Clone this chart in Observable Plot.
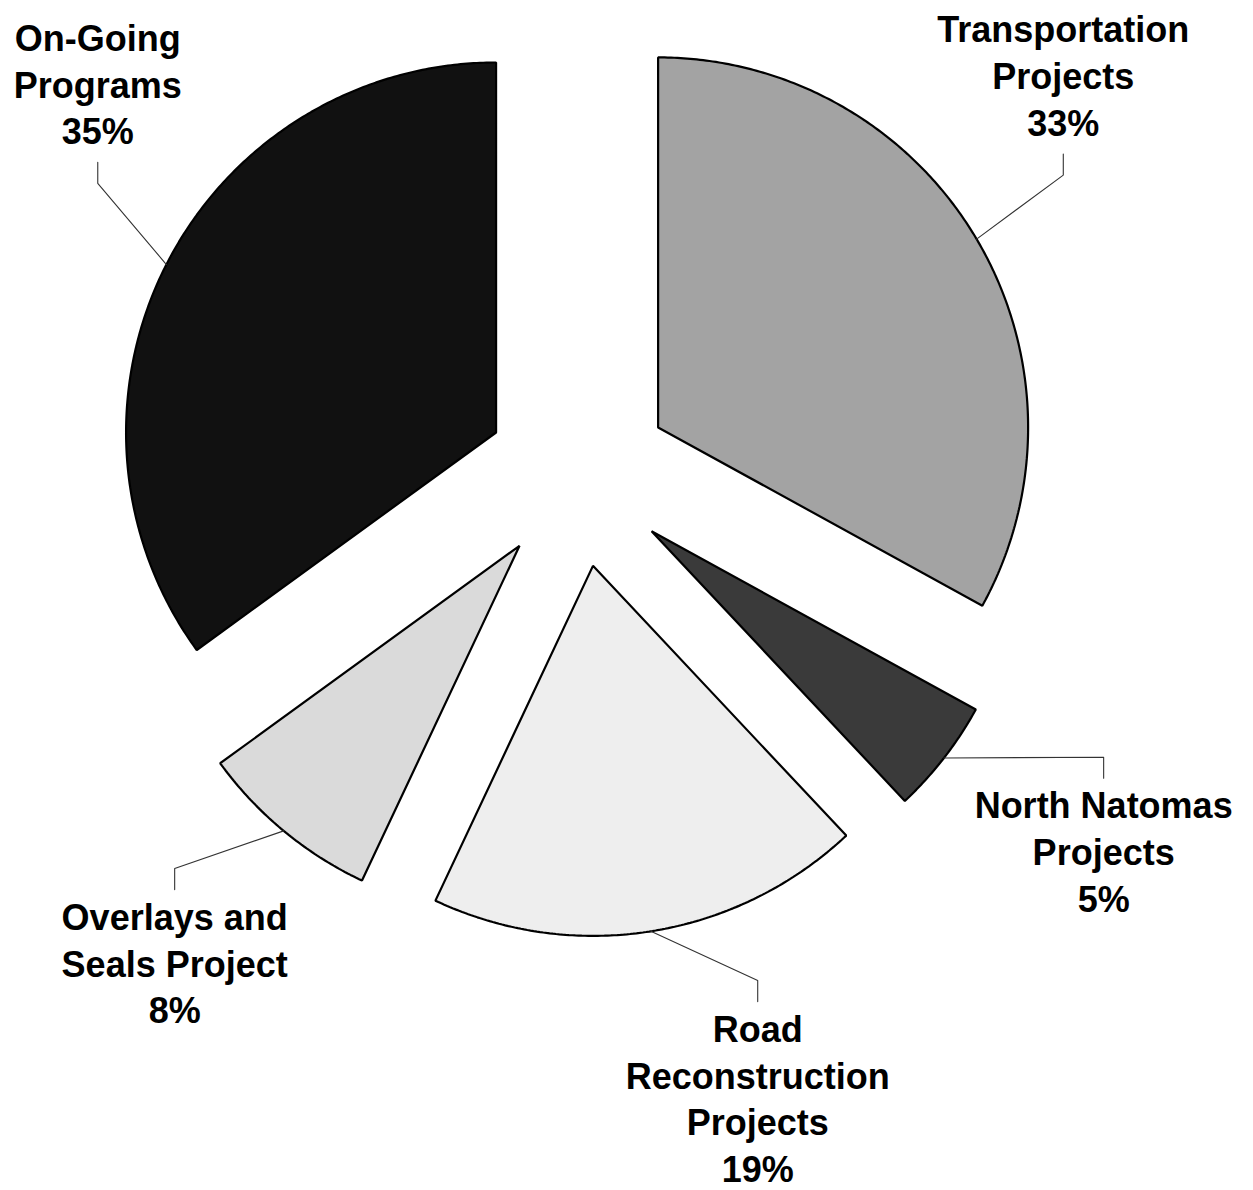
<!DOCTYPE html>
<html><head><meta charset="utf-8">
<script src="https://cdn.jsdelivr.net/npm/d3@7"></script>
<script src="https://cdn.jsdelivr.net/npm/@observablehq/plot@0.6"></script>
<style>body{margin:0;background:#fff} #chart{width:1253px;height:1190px}</style>
</head><body><div id="chart"></div>
<script>
// ---- data ----
const categories = ["Transportation Projects","North Natomas Projects","Road Reconstruction Projects","Overlays and Seals Project","On-Going Programs"];
const shares = [33, 5, 19, 8, 35];
const labelText = ["Transportation\nProjects","North Natomas\nProjects","Road\nReconstruction\nProjects","Overlays and\nSeals Project","On-Going\nPrograms"];
const percentText = ["33%","5%","19%","8%","35%"];

// ---- layout / style ----
const W = 1253, H = 1190, CX = 578, CY = 474, R = 370;
const explode = 0.25;
const fills = ["#a3a3a3","#3a3a3a","#eeeeee","#dadada","#111111"];
const labelAngle = [58.3, 118.3, 160.5, 225.7, 301.2];
const labelDist = [1.54, 1.612, 1.451, 1.525, 1.519];

const rad = d => d * Math.PI / 180;
const pt = (a, d) => [d * Math.sin(rad(a)), -d * Math.cos(rad(a))];
const total = d3.sum(shares);
let acc = 0;
const slices = categories.map((c, i) => {
  const a0 = acc / total * 360; acc += shares[i]; const a1 = acc / total * 360;
  return {c, i, a0, a1, mid: (a0 + a1) / 2};
});
const poly = [];
for (const s of slices) {
  const [ox, oy] = pt(s.mid, explode);
  poly.push({c: s.c, x: ox, y: oy});
  const n = Math.max(2, Math.ceil((s.a1 - s.a0) / 0.5));
  for (let k = 0; k <= n; k++) {
    const a = s.a0 + (s.a1 - s.a0) * k / n;
    const [px, py] = pt(a, 1);
    poly.push({c: s.c, x: ox + px, y: oy + py});
  }
}
const leaders = [], labels = [];
const leg = 21 / R;
slices.forEach((s, i) => {
  const [ox, oy] = pt(s.mid, explode);
  const [mx, my] = pt(s.mid, 1);
  const [ex, ey] = pt(labelAngle[i], labelDist[i]);
  const up = ey < 0;
  const ly = ey + (up ? -leg : leg);
  leaders.push({c: s.c, x: ox + mx, y: oy + my}, {c: s.c, x: ex, y: ey}, {c: s.c, x: ex, y: ly});
  labels.push({text: labelText[i] + "\n" + percentText[i], x: ex, y: ly, up});
});

const textOpts = {x: "x", y: "y", text: "text", fontSize: 36, fontWeight: "bold",
  fontFamily: "Liberation Sans, Arial, sans-serif", fill: "black", lineHeight: 1.3, textAnchor: "middle"};

const chart = Plot.plot({
  width: W, height: H, margin: 0,
  x: {domain: [-CX / R, (W - CX) / R], range: [0, W], axis: null},
  y: {domain: [-CY / R, (H - CY) / R], range: [0, H], axis: null},
  color: {domain: categories, range: fills},
  marks: [
    Plot.line(poly, {x: "x", y: "y", z: "c", fill: "c", stroke: "black", strokeWidth: 2.2, curve: "linear-closed", strokeLinejoin: "miter"}),
    Plot.line(leaders, {x: "x", y: "y", z: "c", stroke: "#333", strokeWidth: 1.1}),
    Plot.text(labels.filter(d => d.up), {...textOpts, lineAnchor: "bottom", dy: -18}),
    Plot.text(labels.filter(d => !d.up), {...textOpts, lineAnchor: "top", dy: 7})
  ]
});
document.getElementById("chart").append(chart);
</script>
</body></html>
